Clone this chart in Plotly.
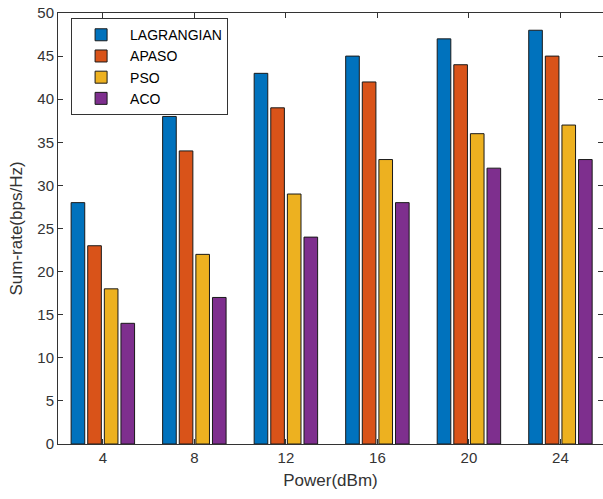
import plotly.graph_objects as go

power = ["4", "8", "12", "16", "20", "24"]
lagrangian = [28, 38, 43, 45, 47, 48]
apaso = [23, 34, 39, 42, 44, 45]
pso = [18, 22, 29, 33, 36, 37]
aco = [14, 17, 24, 28, 32, 33]

series = [
    ("LAGRANGIAN", lagrangian, "#0072BD"),
    ("APASO", apaso, "#D95319"),
    ("PSO", pso, "#EDB120"),
    ("ACO", aco, "#7E2F8E"),
]

fig = go.Figure()
for name, vals, col in series:
    fig.add_trace(go.Bar(
        x=power, y=vals, name=name,
        marker=dict(color=col, line=dict(color="#1a1a1a", width=1)),
    ))

FONT = "Liberation Sans, Arial, Helvetica"
axis_common = dict(
    showline=True, linecolor="#333333", linewidth=1, mirror="ticks",
    ticks="inside", ticklen=5, tickcolor="#333333",
    tickfont=dict(family=FONT, size=15, color="#333333"),
    showgrid=False, zeroline=False,
)

fig.update_layout(
    width=603, height=499,
    margin=dict(l=58, r=0, t=13, b=55),
    paper_bgcolor="white", plot_bgcolor="white",
    barmode="group", bargap=0.274, bargroupgap=0.18,
    font=dict(family=FONT, color="#333333"),
    xaxis=dict(axis_common, range=[-0.49, 5.465],
               title=dict(text="Power(dBm)", font=dict(size=17, color="#333333"), standoff=9)),
    yaxis=dict(axis_common, range=[0, 50], dtick=5,
               title=dict(text="Sum-rate(bps/Hz)", font=dict(size=17, color="#333333"), standoff=10)),
    legend=dict(
        x=0.024, y=0.988, xanchor="left", yanchor="top",
        bordercolor="#333333", borderwidth=1, bgcolor="white",
        font=dict(family=FONT, size=14, color="#000000"), itemwidth=48,
    ),
)

fig.write_html("out.html")
